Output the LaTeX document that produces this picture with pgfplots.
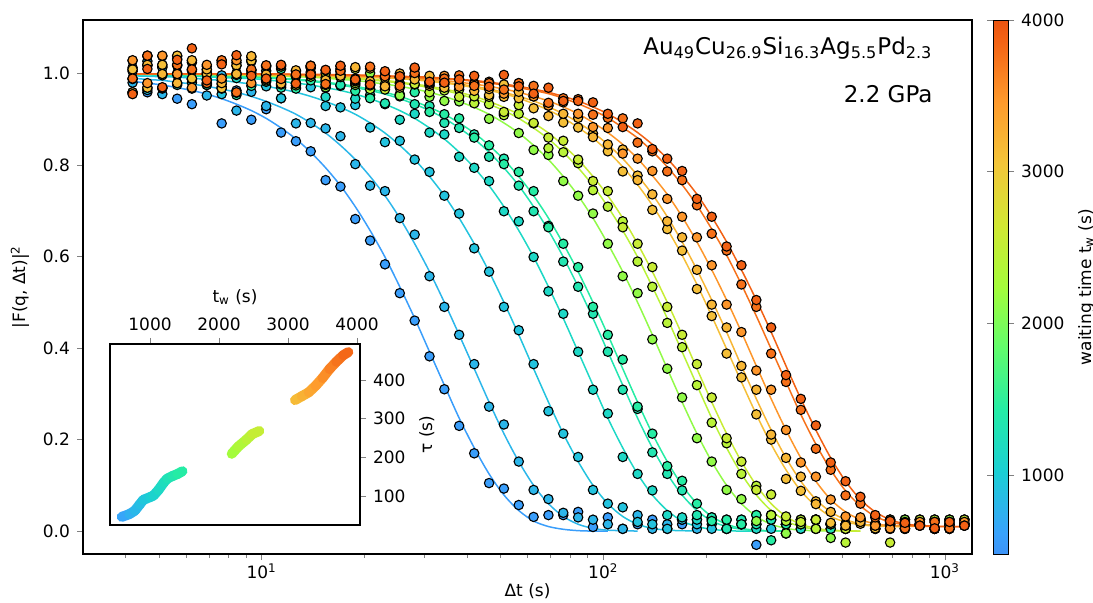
\documentclass[border=0pt]{standalone}
\usepackage{fontspec}
\setmainfont{DejaVu Sans}
\usepackage{pgfplots}
\usepackage{pgfplotstable}
\pgfplotsset{compat=1.18}

\newcommand{\fs}{\fontsize{8.5}{10}\selectfont}

% one colour per run, by waiting time
\definecolor{c1}{RGB}{58,158,251}
\definecolor{c2}{RGB}{44,182,234}
\definecolor{c3}{RGB}{35,195,222}
\definecolor{c4}{RGB}{30,216,198}
\definecolor{c5}{RGB}{34,229,177}
\definecolor{c6}{RGB}{38,236,164}
\definecolor{c7}{RGB}{145,250,72}
\definecolor{c8}{RGB}{185,243,56}
\definecolor{c9}{RGB}{200,236,53}
\definecolor{c10}{RGB}{245,191,56}
\definecolor{c11}{RGB}{247,182,53}
\definecolor{c12}{RGB}{253,150,43}
\definecolor{c13}{RGB}{246,112,25}
\definecolor{c14}{RGB}{242,97,20}

\pgfplotsset{
  colormap={turbocut}{rgb255(0.480cm)=(61,147,247) rgb255(0.616cm)=(57,162,252)
    rgb255(1.025cm)=(27,207,212) rgb255(1.428cm)=(36,236,166) rgb255(1.837cm)=(97,252,108)
    rgb255(2.240cm)=(164,252,59) rgb255(2.643cm)=(209,232,52) rgb255(3.052cm)=(243,198,58)
    rgb255(3.455cm)=(254,155,45) rgb255(3.864cm)=(243,99,21) rgb255(4.000cm)=(234,84,16)},
  /pgf/number format/assume math mode=true,
}

% lag times (s)
\pgfplotstableread{
t
4.19
4.63
5.12
5.66
6.25
6.91
7.64
8.44
9.33
10.31
11.40
12.60
13.92
15.39
17.01
18.80
20.77
22.96
25.37
28.05
31.00
34.26
37.86
41.90
46.31
51.18
56.57
62.52
69.10
76.37
84.41
93.29
103.1
114.0
126.0
139.2
153.9
170.1
188.0
207.7
229.6
253.7
280.5
310.0
342.6
378.6
419.0
463.1
511.9
565.7
625.2
691.0
763.7
844.1
932.9
1031
1140
}\data

% fitted curves
\pgfplotstablecreatecol[create col/set list={0.983,0.979,0.975,0.969,0.963,0.955,0.945,0.933,0.919,0.902,0.881,0.857,0.828,0.794,0.755,0.709,0.657,0.599,0.534,0.465,0.392,0.319,0.247,0.182,0.125,0.079,0.045,0.022,0.010,0.004,0.001,0.000,0.000,nan,nan,nan,nan,nan,nan,nan,nan,nan,nan,nan,nan,nan,nan,nan,nan,nan,nan,nan,nan,nan,nan,nan,nan}]{F1}\data
\pgfplotstablecreatecol[create col/set list={0.990,0.987,0.985,0.981,0.977,0.972,0.966,0.959,0.950,0.939,0.926,0.911,0.892,0.870,0.843,0.812,0.775,0.733,0.684,0.628,0.567,0.500,0.429,0.355,0.282,0.213,0.152,0.100,0.060,0.032,0.015,0.006,0.002,0.001,0.000,nan,nan,nan,nan,nan,nan,nan,nan,nan,nan,nan,nan,nan,nan,nan,nan,nan,nan,nan,nan,nan,nan}]{F2}\data
\pgfplotstablecreatecol[create col/set list={0.995,0.994,0.993,0.992,0.990,0.987,0.985,0.981,0.977,0.972,0.966,0.959,0.950,0.939,0.926,0.911,0.892,0.870,0.843,0.812,0.775,0.733,0.684,0.628,0.567,0.500,0.429,0.355,0.282,0.213,0.152,0.100,0.060,0.032,0.015,0.006,0.002,0.001,0.000,nan,nan,nan,nan,nan,nan,nan,nan,nan,nan,nan,nan,nan,nan,nan,nan,nan,nan}]{F3}\data
\pgfplotstablecreatecol[create col/set list={0.997,0.997,0.996,0.995,0.994,0.993,0.991,0.990,0.989,0.986,0.983,0.979,0.975,0.969,0.963,0.955,0.945,0.933,0.919,0.902,0.881,0.857,0.828,0.794,0.755,0.709,0.657,0.599,0.534,0.465,0.392,0.319,0.247,0.182,0.125,0.079,0.045,0.022,0.010,0.004,0.001,0.000,0.000,nan,nan,nan,nan,nan,nan,nan,nan,nan,nan,nan,nan,nan,nan}]{F4}\data
\pgfplotstablecreatecol[create col/set list={0.998,0.998,0.997,0.997,0.996,0.995,0.994,0.993,0.991,0.990,0.989,0.986,0.983,0.979,0.975,0.969,0.963,0.955,0.945,0.933,0.919,0.902,0.881,0.857,0.828,0.794,0.755,0.709,0.657,0.599,0.534,0.465,0.392,0.319,0.247,0.182,0.125,0.079,0.045,0.022,0.010,0.004,0.001,0.000,0.000,nan,nan,nan,nan,nan,nan,nan,nan,nan,nan,nan,nan}]{F5}\data
\pgfplotstablecreatecol[create col/set list={0.998,0.998,0.998,0.997,0.997,0.996,0.995,0.994,0.993,0.992,0.990,0.987,0.985,0.981,0.977,0.972,0.966,0.959,0.950,0.939,0.926,0.911,0.892,0.870,0.843,0.812,0.775,0.733,0.684,0.628,0.567,0.500,0.429,0.355,0.282,0.213,0.152,0.100,0.060,0.032,0.015,0.006,0.002,0.001,0.000,nan,nan,nan,nan,nan,nan,nan,nan,nan,nan,nan,nan}]{F6}\data
\pgfplotstablecreatecol[create col/set list={0.999,0.999,0.999,0.998,0.998,0.998,0.997,0.997,0.996,0.995,0.994,0.993,0.992,0.990,0.987,0.985,0.981,0.977,0.972,0.966,0.959,0.950,0.939,0.926,0.911,0.892,0.870,0.843,0.812,0.775,0.733,0.684,0.628,0.567,0.500,0.429,0.355,0.282,0.213,0.152,0.100,0.060,0.032,0.015,0.006,0.002,0.001,0.000,nan,nan,nan,nan,nan,nan,nan,nan,nan}]{F7}\data
\pgfplotstablecreatecol[create col/set list={0.999,0.999,0.999,0.999,0.998,0.998,0.997,0.997,0.996,0.995,0.995,0.994,0.993,0.991,0.990,0.989,0.986,0.983,0.979,0.975,0.969,0.963,0.955,0.945,0.933,0.919,0.902,0.881,0.857,0.828,0.794,0.755,0.709,0.657,0.599,0.534,0.465,0.392,0.319,0.247,0.182,0.125,0.079,0.045,0.022,0.010,0.004,0.001,0.000,0.000,nan,nan,nan,nan,nan,nan,nan}]{F8}\data
\pgfplotstablecreatecol[create col/set list={0.999,0.999,0.999,0.999,0.999,0.999,0.998,0.998,0.997,0.997,0.996,0.995,0.994,0.993,0.992,0.990,0.987,0.985,0.981,0.977,0.972,0.966,0.959,0.950,0.939,0.926,0.911,0.892,0.870,0.843,0.812,0.775,0.733,0.684,0.628,0.567,0.500,0.429,0.355,0.282,0.213,0.152,0.100,0.060,0.032,0.015,0.006,0.002,0.001,0.000,nan,nan,nan,nan,nan,nan,nan}]{F9}\data
\pgfplotstablecreatecol[create col/set list={0.999,0.999,0.999,0.999,0.999,0.999,0.998,0.998,0.998,0.997,0.997,0.996,0.996,0.995,0.994,0.993,0.991,0.990,0.989,0.986,0.983,0.979,0.975,0.969,0.963,0.956,0.946,0.934,0.920,0.903,0.882,0.859,0.830,0.796,0.757,0.712,0.660,0.603,0.539,0.470,0.398,0.326,0.255,0.190,0.134,0.088,0.055,0.032,0.020,0.014,0.011,0.010,0.010,nan,nan,nan,nan}]{F10}\data
\pgfplotstablecreatecol[create col/set list={0.999,0.999,0.999,0.999,0.999,0.999,0.999,0.999,0.998,0.998,0.998,0.997,0.997,0.996,0.995,0.994,0.993,0.992,0.990,0.987,0.985,0.981,0.977,0.972,0.966,0.959,0.950,0.940,0.927,0.912,0.893,0.871,0.845,0.814,0.777,0.736,0.687,0.632,0.571,0.505,0.435,0.361,0.289,0.221,0.160,0.109,0.069,0.042,0.025,0.016,0.012,0.011,0.010,nan,nan,nan,nan}]{F11}\data
\pgfplotstablecreatecol[create col/set list={0.999,0.999,0.999,0.999,0.999,0.999,0.999,0.999,0.999,0.998,0.998,0.998,0.997,0.997,0.996,0.995,0.994,0.993,0.992,0.990,0.987,0.985,0.981,0.977,0.972,0.966,0.959,0.950,0.940,0.927,0.912,0.893,0.871,0.845,0.814,0.777,0.736,0.687,0.632,0.571,0.505,0.435,0.361,0.289,0.221,0.160,0.109,0.069,0.042,0.025,0.016,0.012,0.011,0.010,nan,nan,nan}]{F12}\data
\pgfplotstablecreatecol[create col/set list={0.999,0.999,0.999,0.999,0.999,0.999,0.999,0.999,0.999,0.998,0.998,0.998,0.997,0.997,0.996,0.996,0.995,0.994,0.993,0.991,0.990,0.989,0.986,0.983,0.979,0.975,0.969,0.963,0.956,0.946,0.934,0.920,0.903,0.882,0.859,0.830,0.796,0.757,0.712,0.660,0.603,0.539,0.470,0.398,0.326,0.255,0.190,0.134,0.088,0.055,0.032,0.020,0.014,0.011,0.010,0.010,0.010}]{F13}\data
\pgfplotstablecreatecol[create col/set list={0.999,0.999,0.999,0.999,0.999,0.999,0.999,0.999,0.999,0.999,0.999,0.998,0.998,0.998,0.997,0.997,0.996,0.995,0.994,0.993,0.992,0.990,0.987,0.985,0.981,0.977,0.972,0.966,0.959,0.950,0.940,0.927,0.912,0.893,0.871,0.845,0.814,0.777,0.736,0.687,0.632,0.571,0.505,0.435,0.361,0.289,0.221,0.160,0.109,0.069,0.042,0.025,0.016,0.012,0.011,0.010,0.010}]{F14}\data

% measured points
\pgfplotstablecreatecol[create col/set list={1.013,0.959,1.015,0.945,0.933,0.975,0.891,0.963,0.899,0.922,0.871,0.852,0.830,0.767,0.753,0.682,0.635,0.583,0.520,0.460,0.382,0.310,0.230,0.170,0.105,0.093,0.057,0.031,0.035,0.035,0.042,0.009,0.030,0.005,0.015,0.025,0.005,0.015,0.025,0.030,0.005,0.015,-0.030,0.035,0.015,0.005,0.025,0.015,0.005,0.025,0.015,0.005,0.015,0.025,0.005,0.015,0.025}]{D1}\data
\pgfplotstablecreatecol[create col/set list={0.980,1.027,0.955,1.001,0.987,0.952,0.996,0.919,0.960,0.929,0.946,0.891,0.892,0.880,0.863,0.802,0.755,0.743,0.684,0.648,0.557,0.490,0.429,0.365,0.272,0.233,0.152,0.090,0.070,0.040,0.030,0.025,0.015,0.005,0.035,0.005,0.015,0.025,0.005,0.015,0.005,0.025,0.015,0.025,-0.005,0.015,0.025,0.005,0.015,0.025,0.005,0.015,0.025,0.015,0.005,0.025,0.015}]{D2}\data
\pgfplotstablecreatecol[create col/set list={1.005,0.964,1.013,1.032,0.980,0.987,0.955,1.001,1.007,0.972,0.946,0.969,0.970,0.929,0.926,0.931,0.882,0.850,0.853,0.812,0.785,0.733,0.694,0.618,0.567,0.490,0.439,0.365,0.262,0.213,0.162,0.090,0.060,0.052,0.020,0.015,0.005,0.025,0.015,0.005,0.025,0.015,0.035,0.005,0.015,0.025,0.005,0.015,0.005,0.025,0.015,0.025,0.005,0.015,0.025,0.005,0.015}]{D3}\data
\pgfplotstablecreatecol[create col/set list={0.957,1.017,0.996,0.975,1.024,1.003,0.971,0.990,1.029,1.006,0.973,0.979,0.995,0.949,0.973,0.945,0.965,0.933,0.899,0.912,0.871,0.867,0.818,0.794,0.765,0.699,0.677,0.599,0.524,0.475,0.392,0.309,0.257,0.162,0.125,0.089,0.035,0.030,0.025,0.025,0.005,0.015,0.005,0.035,0.015,0.005,0.025,0.015,0.005,0.025,0.015,0.005,0.015,0.025,0.005,0.015,0.025}]{D4}\data
\pgfplotstablecreatecol[create col/set list={0.988,1.038,0.967,1.017,1.006,0.975,1.024,0.953,1.001,0.990,0.969,0.996,1.003,0.969,0.975,0.989,0.953,0.935,0.955,0.933,0.929,0.892,0.881,0.867,0.818,0.814,0.755,0.699,0.667,0.589,0.534,0.475,0.392,0.309,0.267,0.172,0.125,0.089,0.035,0.030,0.005,0.025,0.015,0.025,-0.005,0.015,0.025,0.005,0.015,0.025,0.005,0.015,0.025,0.015,0.005,0.025,0.015}]{D5}\data
\pgfplotstablecreatecol[create col/set list={1.028,0.978,1.038,0.997,0.967,1.016,0.985,1.024,0.973,0.982,1.010,0.967,0.985,0.991,0.997,0.962,0.946,0.969,0.950,0.959,0.916,0.911,0.902,0.860,0.843,0.802,0.785,0.743,0.664,0.628,0.577,0.490,0.429,0.375,0.272,0.213,0.142,0.110,0.060,0.022,0.025,0.015,0.035,-0.020,0.015,0.025,0.005,0.015,0.005,0.025,0.015,0.025,0.005,0.015,0.025,0.005,0.015}]{D6}\data
\pgfplotstablecreatecol[create col/set list={1.009,0.969,1.019,1.038,0.988,0.998,0.967,1.017,1.026,1.015,0.984,0.993,1.012,0.970,0.997,0.975,1.001,0.977,0.952,0.976,0.949,0.940,0.939,0.936,0.901,0.912,0.870,0.833,0.822,0.765,0.733,0.694,0.628,0.557,0.520,0.419,0.355,0.292,0.203,0.152,0.090,0.070,0.022,0.035,-0.005,0.015,0.025,-0.015,0.015,0.025,0.005,0.015,0.025,0.015,0.005,0.025,0.015}]{D7}\data
\pgfplotstablecreatecol[create col/set list={0.959,1.019,0.999,0.979,1.028,1.008,0.977,0.997,1.036,0.985,1.015,0.974,0.993,1.001,1.010,0.979,0.966,0.993,0.979,0.995,0.959,0.963,0.965,0.935,0.933,0.909,0.912,0.891,0.837,0.828,0.804,0.745,0.709,0.677,0.589,0.534,0.455,0.402,0.319,0.237,0.192,0.125,0.099,0.035,0.022,0.025,0.005,0.015,-0.025,0.025,0.015,0.025,0.005,0.015,0.025,0.005,0.015}]{D8}\data
\pgfplotstablecreatecol[create col/set list={0.989,1.039,0.969,1.019,1.009,0.979,1.028,0.958,1.007,0.997,0.976,1.005,1.014,0.983,0.992,1.010,0.977,0.965,0.991,0.977,0.982,0.976,0.949,0.950,0.949,0.916,0.931,0.892,0.860,0.853,0.812,0.765,0.743,0.664,0.628,0.577,0.490,0.429,0.365,0.292,0.203,0.152,0.090,0.080,0.032,0.020,0.025,0.015,0.005,0.025,0.015,-0.025,0.015,0.025,0.005,0.015,0.025}]{D9}\data
\pgfplotstablecreatecol[create col/set list={1.009,0.969,1.019,1.039,0.989,0.999,0.968,1.018,1.028,1.017,0.987,0.996,1.016,0.975,1.004,0.983,1.011,0.990,0.969,0.996,0.973,0.969,0.975,0.979,0.953,0.976,0.946,0.924,0.930,0.893,0.882,0.869,0.830,0.786,0.777,0.702,0.660,0.613,0.529,0.470,0.388,0.336,0.255,0.200,0.114,0.088,0.065,0.018,0.012,0.016,0.006,0.012,0.020,0.012,0.006,0.020,0.012}]{D10}\data
\pgfplotstablecreatecol[create col/set list={0.959,1.019,0.999,0.979,1.029,1.009,0.979,0.999,1.038,0.998,0.978,1.007,1.017,0.986,0.995,1.014,0.983,0.972,1.000,0.987,0.995,0.981,0.987,0.962,0.966,0.949,0.960,0.950,0.907,0.912,0.903,0.861,0.845,0.834,0.767,0.736,0.677,0.642,0.571,0.495,0.445,0.361,0.309,0.211,0.160,0.119,0.059,0.042,0.012,0.020,0.012,0.020,0.006,0.012,0.020,0.006,0.012}]{D11}\data
\pgfplotstablecreatecol[create col/set list={1.029,0.979,1.039,0.999,0.969,1.019,0.989,1.029,0.979,0.988,1.018,0.978,0.997,1.007,1.016,0.985,0.974,1.003,0.992,1.010,0.977,0.995,0.971,0.977,0.982,0.956,0.979,0.950,0.930,0.937,0.912,0.883,0.881,0.825,0.814,0.787,0.726,0.687,0.642,0.581,0.495,0.435,0.351,0.309,0.221,0.150,0.119,0.069,0.032,0.030,0.012,0.006,0.012,0.020,0.006,0.012,0.020}]{D12}\data
\pgfplotstablecreatecol[create col/set list={0.989,1.039,0.969,1.019,1.009,0.979,1.029,0.959,1.009,1.018,0.988,0.998,1.017,0.977,1.006,0.986,1.015,0.994,0.973,1.001,0.980,0.989,0.996,0.973,0.979,0.965,0.979,0.973,0.936,0.946,0.944,0.910,0.903,0.902,0.849,0.830,0.786,0.767,0.712,0.650,0.613,0.539,0.490,0.388,0.326,0.265,0.180,0.134,0.078,0.060,0.030,0.022,0.006,0.012,0.020,0.006,0.012}]{D13}\data
\pgfplotstablecreatecol[create col/set list={0.955,1.010,0.970,1.030,1.055,0.985,1.020,1.040,0.995,0.989,1.019,0.978,0.998,1.008,1.017,0.987,0.976,1.005,0.994,1.013,0.982,0.980,0.987,0.995,0.971,0.997,0.972,0.956,0.969,0.940,0.940,0.937,0.912,0.883,0.891,0.835,0.814,0.787,0.726,0.687,0.622,0.581,0.505,0.445,0.341,0.289,0.231,0.150,0.109,0.075,0.035,0.022,0.018,0.012,0.006,0.020,0.012}]{D14}\data

% fit line + measured points of one run
\newcommand{\run}[3]{%
  \addplot[draw=#3, line width=0.75pt, smooth, forget plot] table[x=t, y=#1] {\data};
  \addplot[only marks, mark=*, mark size=2.35pt,
    mark options={fill=#3, draw=black, line width=0.55pt}, forget plot]
    table[x=t, y=#2] {\data};
}

\begin{document}
\begin{tikzpicture}
\begin{axis}[
  name=main, at={(0pt,0pt)}, anchor=south west,
  scale only axis, width=444.5pt, height=267pt,
  xmode=log, xmin=3, xmax=1200, ymin=-0.05, ymax=1.117,
  xtick={10,100,1000},
  xticklabels={10\textsuperscript{1},10\textsuperscript{2},10\textsuperscript{3}},
  minor xtick={4,5,6,7,8,9,20,30,40,50,60,70,80,90,200,300,400,500,600,700,800,900},
  ytick={0,0.2,0.4,0.6,0.8,1.0},
  yticklabel style={/pgf/number format/.cd, fixed, fixed zerofill, precision=1},
  xticklabel style={yshift=1.5pt},
  tick pos=left, tick align=outside,
  major tick length=3pt, minor tick length=1.8pt,
  tick label style={font=\fs}, label style={font=\fs},
  xlabel style={yshift=4.5pt},
  axis line style={line width=0.6pt},
  xlabel={Δt (s)}, ylabel={|F(q, Δt)|\textsuperscript{2}},
  colormap name=turbocut, point meta min=480, point meta max=4000,
  colorbar,
  colorbar style={
    scale only axis, width=7.5pt,
    at={(parent axis.north east)}, anchor=north west, xshift=2pt,
    ytick={1000,2000,3000,4000},
    yticklabel style={font=\fs, /pgf/number format/1000 sep={}},
    ylabel={waiting time t\textsubscript{w} (s)}, ylabel style={font=\fs},
    tick align=outside, major tick length=3pt,
  },
]
\run{F1}{D1}{c1}
\run{F2}{D2}{c2}
\run{F3}{D3}{c3}
\run{F4}{D4}{c4}
\run{F5}{D5}{c5}
\run{F6}{D6}{c6}
\run{F7}{D7}{c7}
\run{F8}{D8}{c8}
\run{F9}{D9}{c9}
\run{F10}{D10}{c10}
\run{F11}{D11}{c11}
\run{F12}{D12}{c12}
\run{F13}{D13}{c13}
\run{F14}{D14}{c14}

\node[anchor=north east, inner sep=0pt, font=\fontsize{11.5}{13}\selectfont]
  at (rel axis cs:0.956,0.968)
  {Au\textsubscript{49}Cu\textsubscript{26.9}Si\textsubscript{16.3}Ag\textsubscript{5.5}Pd\textsubscript{2.3}};
\node[anchor=north east, inner sep=0pt, font=\fontsize{11.5}{13}\selectfont]
  at (rel axis cs:0.956,0.878) {2.2 GPa};
\end{axis}

% inset: relaxation time against waiting time
\begin{axis}[
  name=inset, at={(13.5pt,14.5pt)}, anchor=south west,
  scale only axis, width=125pt, height=90.5pt,
  xmin=420, xmax=4043, ymin=25, ymax=493,
  xtick={1000,2000,3000,4000}, ytick={100,200,300,400},
  xtick pos=right, ytick pos=right,
  xticklabel pos=right, yticklabel pos=right,
  tick align=outside, major tick length=3pt,
  tick label style={font=\fs}, label style={font=\fs},
  /pgf/number format/1000 sep={},
  axis line style={line width=0.6pt},
  xlabel={t\textsubscript{w} (s)}, ylabel={τ (s)},
  axis background/.style={fill=white},
  colormap name=turbocut, point meta min=480, point meta max=4000,
]
\addplot[mesh, point meta=x, line width=5pt, line cap=round] coordinates {
  (590,46) (700,53) (780,62) (850,78) (903,90) (1000,97) (1050,101)
  (1120,115) (1200,135) (1250,145) (1330,152) (1400,157) (1470,164)};
\addplot[mesh, point meta=x, line width=5pt, line cap=round] coordinates {
  (2184,209) (2280,228) (2400,246) (2480,260) (2584,268)};
\addplot[mesh, point meta=x, line width=5pt, line cap=round] coordinates {
  (3101,348) (3200,358) (3300,368) (3400,385) (3500,405) (3600,428)
  (3700,447) (3800,464) (3874,472)};
\end{axis}

\pgfresetboundingbox
\path (-41.5pt,-24.5pt) rectangle (505pt,277pt);
\end{tikzpicture}
\end{document}
